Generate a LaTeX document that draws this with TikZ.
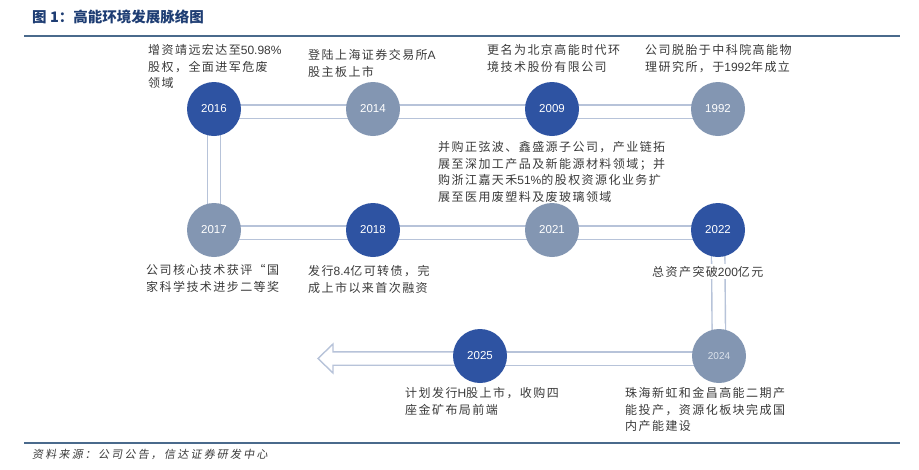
\documentclass[tikz,border=0pt]{standalone}
\usepackage{fontspec}
\setmainfont{Liberation Sans}
\newfontfamily\cjk{Noto Sans CJK SC}[LetterSpace=12]
\newfontfamily\cjkt{Noto Sans CJK SC}
\newfontfamily\cjkf{Noto Sans CJK SC}[LetterSpace=20,FakeSlant=0.18]
\newfontfamily\yrfont{Liberation Sans}
\usetikzlibrary{calc,backgrounds}
\definecolor{darkc}{HTML}{2E53A2}
\definecolor{lightc}{HTML}{8396B2}
\definecolor{bandc}{HTML}{B7C3D9}
\definecolor{txtc}{HTML}{3A3A3A}
\definecolor{titlec}{HTML}{1E3D73}
\definecolor{rulec}{HTML}{4A6A8C}
\definecolor{yrfaint}{HTML}{DCE3EC}
\newcommand\lblstrut{\rule{0pt}{11pt}}
\newcommand\lat[1]{{\yrfont #1}}
\begin{document}
\begin{tikzpicture}[x=1pt,y=-1pt,
  yeardark/.style={circle, fill=darkc, minimum size=54pt, inner sep=0pt, text=white, font=\yrfont\fontsize{11.5}{13}\selectfont},
  yearlight/.style={yeardark, fill=lightc},
  lbl/.style={anchor=north west, inner sep=0pt, align=left, text=txtc, font=\cjk\fontsize{12}{16.4}\selectfont},
  band/.style={draw=bandc, line width=1.4pt, double=white, double distance=12pt},
  arrowc/.style={draw=bandc, line width=1.4pt, fill=white, line join=miter},
  rulestyle/.style={draw=rulec, line width=2.2pt}
]
\useasboundingbox (0,0) rectangle (919,469);

% title and rules
\node[anchor=base west, inner sep=0pt, text=titlec, font=\cjkt\bfseries\fontsize{14.5}{16}\selectfont] (title) at (32,22.5) {图 1：高能环境发展脉络图};
\draw[rulestyle] (24,36) -- (900,36);
\draw[rulestyle] (24,443) -- (900,443);
\node[anchor=base west, inner sep=0pt, text=txtc, font=\cjkf\fontsize{11}{13}\selectfont] (source) at (32,458) {资料来源：公司公告，信达证券研发中心};

% year circles
\node[yeardark]  (y2016) at (214,109) {2016};
\node[yearlight] (y2014) at (373,109) {2014};
\node[yeardark]  (y2009) at (552,109) {2009};
\node[yearlight] (y1992) at (718,109) {1992};
\node[yearlight] (y2017) at (214,230) {2017};
\node[yeardark]  (y2018) at (373,230) {2018};
\node[yearlight] (y2021) at (552,230) {2021};
\node[yeardark]  (y2022) at (718,230) {2022};
\node[yeardark]  (y2025) at (480,356) {2025};
\node[yearlight, text=yrfaint, font=\yrfont\fontsize{10}{11}\selectfont] (y2024) at (719,356) {2024};

% labels
\node[lbl] (t2016) at (148,43.6) {\lblstrut 增资靖远宏达至\lat{50.98\%}\\股权，全面进军危废\\领域};
\node[lbl] (t2014) at (308,48.6) {\lblstrut 登陆上海证券交易所\lat{A}\\股主板上市};
\node[lbl] (t2009) at (487,43.6) {\lblstrut 更名为北京高能时代环\\境技术股份有限公司};
\node[lbl] (t1992) at (645,43.6) {\lblstrut 公司脱胎于中科院高能物\\理研究所，于\lat{1992}年成立};
\node[lbl] (t2021) at (438,140.6) {\lblstrut 并购正弦波、鑫盛源子公司，产业链拓\\展至深加工产品及新能源材料领域；并\\购浙江嘉天禾\lat{51\%}的股权资源化业务扩\\展至医用废塑料及废玻璃领域};
\node[lbl] (t2017) at (146,263.6) {\lblstrut 公司核心技术获评“国\\家科学技术进步二等奖};
\node[lbl] (t2018) at (308,264.6) {\lblstrut 发行\lat{8.4}亿可转债，完\\成上市以来首次融资};
\node[lbl, fill=white, inner ysep=1.5pt] (t2022) at (652,264.1) {\lblstrut 总资产突破\lat{200}亿元};
\node[lbl] (t2025) at (405,386.6) {\lblstrut 计划发行\lat{H}股上市，收购四\\座金矿布局前端};
\node[lbl] (t2024) at (625,386.6) {\lblstrut 珠海新虹和金昌高能二期产\\能投产，资源化板块完成国\\内产能建设};

\coordinate (tip) at (318,358.5);

\begin{scope}[on background layer]
  \draw[band] ($(y2016.center)+(0,2.5)$) -- ($(y2014.center)+(0,2.5)$);
  \draw[band] ($(y2014.center)+(0,2.5)$) -- ($(y2009.center)+(0,2.5)$);
  \draw[band] ($(y2009.center)+(0,2.5)$) -- ($(y1992.center)+(0,2.5)$);
  \draw[band] (y2016.center) -- (y2017.center);
  \draw[band] ($(y2017.center)+(0,2.5)$) -- ($(y2018.center)+(0,2.5)$);
  \draw[band] ($(y2018.center)+(0,2.5)$) -- ($(y2021.center)+(0,2.5)$);
  \draw[band] ($(y2021.center)+(0,2.5)$) -- ($(y2022.center)+(0,2.5)$);
  \draw[band] (y2022.center) -- (y2024.center);
  \draw[band] ($(y2025.center)+(0,2.5)$) -- ($(y2024.center)+(0,2.5)$);
  \draw[arrowc] ($(y2025.center)+(0,-4.2)$) -- ($(tip)+(15,-6.7)$) -- ($(tip)+(15,-14.5)$) -- (tip) -- ($(tip)+(15,14.5)$) -- ($(tip)+(15,6.7)$) -- ($(y2025.center)+(0,9.2)$);
\end{scope}
\end{tikzpicture}
\end{document}
